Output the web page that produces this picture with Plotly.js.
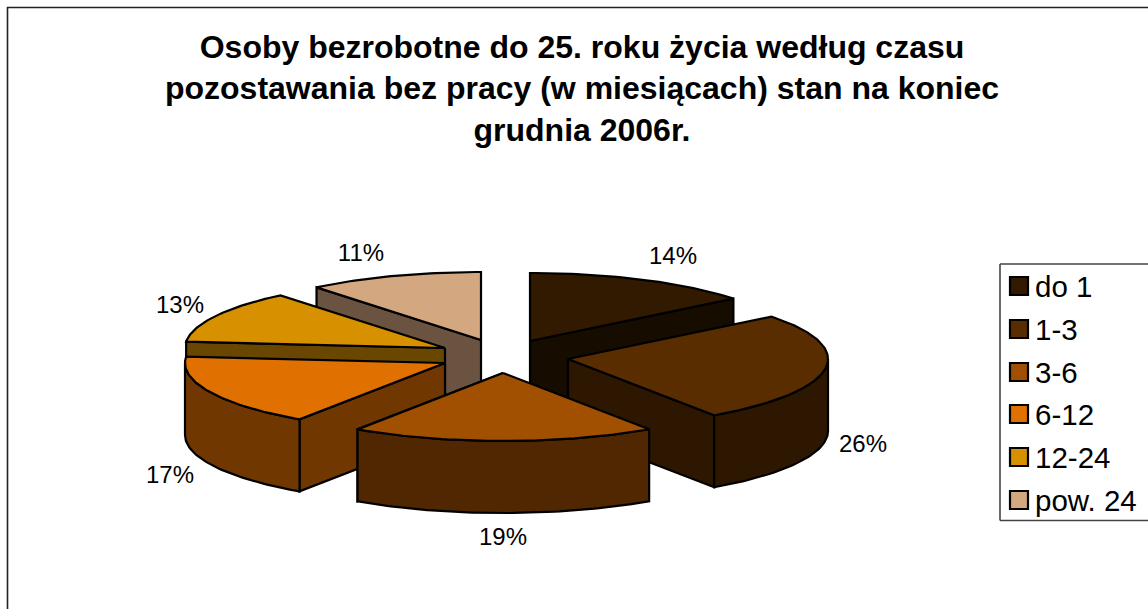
<!DOCTYPE html>
<html>
<head>
<meta charset="utf-8">
<script src="https://cdn.plot.ly/plotly-3.0.1.min.js"></script>
<style>html,body{margin:0;padding:0;background:#fff;overflow:hidden}</style>
</head>
<body>
<div id="chart" style="width:1148px;height:609px"></div>
<script>
// Data
const categories = ['do 1', '1-3', '3-6', '6-12', '12-24', 'pow. 24'];
const shares = [14.3, 26.2, 18.95, 17.05, 12.6, 10.9];
const titleText = 'Osoby bezrobotne do 25. roku życia według czasu<br>pozostawania bez pracy (w miesiącach) stan na koniec<br>grudnia 2006r.';

// Styles
const topColors = ['#321A00', '#5A2D00', '#A05000', '#E07000', '#D69000', '#D3A77F'];
const wallColors = ['#170C00', '#2E1700', '#502700', '#703800', '#6A4700', '#6A5340'];

// Projection of the exploded pie (pixel-like axis space)
const apexX = [530, 568, 503, 445, 445, 481];
const apexY = [341, 359, 373, 363, 348, 340];
const rx = 260, ry = 68, depth = 72;
const drawOrder = [5, 0, 4, 3, 1, 2];
const labelX = [673, 863, 503, 170, 180, 361];
const labelY = [258, 446, 539, 477, 307, 255];
const legendSwatchX = 1019;
const legendTextX = 1035;
const legendY = [286, 329, 372, 414, 457, 500];

const total = shares.reduce((a, b) => a + b, 0);
let running = 0;
const angles = shares.map(v => { const s = running; running += v; return [s / total * 2 * Math.PI, running / total * 2 * Math.PI]; });

function arc(i, a0, a1, dy) {
  const n = Math.max(2, Math.ceil((a1 - a0) / 0.02));
  const xs = [], ys = [];
  for (let k = 0; k <= n; k++) {
    const t = a0 + (a1 - a0) * k / n;
    xs.push(apexX[i] + rx * Math.sin(t));
    ys.push(apexY[i] - ry * Math.cos(t) + dy);
  }
  return [xs, ys];
}
function poly(x, y, color) {
  return { type: 'scatter', mode: 'lines', x: x.concat([x[0]]), y: y.concat([y[0]]), fill: 'toself', fillcolor: color,
    line: { color: '#000', width: 2.2, shape: 'linear' }, hoverinfo: 'skip', showlegend: false };
}

const traces = [];
drawOrder.forEach(i => {
  const [a0, a1] = angles[i];
  const cx = apexX[i], cy = apexY[i];
  // radial wall facing the viewer: end edge on right half, start edge on left half
  const wallAngle = a0 < Math.PI * 0.95 ? a1 : a0;
  const ex = cx + rx * Math.sin(wallAngle), ey = cy - ry * Math.cos(wallAngle);
  traces.push(poly([cx, ex, ex, cx], [cy, ey, ey + depth, cy + depth], wallColors[i]));
  // outer curved wall (only front half of the ellipse)
  const b0 = Math.max(a0, Math.PI / 2), b1 = Math.min(a1, Math.PI * 1.5);
  if (b1 > b0) {
    const [tx, ty] = arc(i, b0, b1, 0);
    const [bx, by] = arc(i, b0, b1, depth);
    traces.push(poly(tx.concat(bx.slice().reverse()), ty.concat(by.slice().reverse()), wallColors[i]));
  }
  // top face
  const [ax, ay] = arc(i, a0, a1, 0);
  traces.push(poly([cx].concat(ax), [cy].concat(ay), topColors[i]));
});

// percent labels
traces.push({ type: 'scatter', mode: 'text', x: labelX, y: labelY,
  text: shares.map(v => Math.round(v / total * 100) + '%'), textposition: 'middle center',
  textfont: { family: 'Liberation Sans, Arial, sans-serif', size: 24, color: '#000' }, hoverinfo: 'skip', showlegend: false });

// legend entries
categories.forEach((c, i) => {
  traces.push({ type: 'scatter', mode: 'markers', name: c, x: [legendSwatchX], y: [legendY[i]],
    marker: { symbol: 'square', size: 18, color: topColors[i], line: { color: '#000', width: 2.2 } },
    hoverinfo: 'skip', showlegend: false });
  traces.push({ type: 'scatter', mode: 'text', x: [legendTextX], y: [legendY[i] + 3.5], text: [c], textposition: 'middle right',
    textfont: { family: 'Liberation Sans, Arial, sans-serif', size: 29.5, color: '#000' }, hoverinfo: 'skip', showlegend: false });
});

const layout = {
  width: 1148, height: 609, margin: { l: 0, r: 0, t: 0, b: 0 }, paper_bgcolor: '#fff', plot_bgcolor: '#fff', showlegend: false,
  title: { text: titleText, x: 582 / 1148, xanchor: 'center', y: 1 - 57.5 / 609, yanchor: 'middle', automargin: false,
    font: { family: 'Liberation Sans, Arial, sans-serif', size: 32, weight: 700, color: '#000' } },
  xaxis: { range: [0, 1148], visible: false, fixedrange: true },
  yaxis: { range: [609, 0], visible: false, fixedrange: true },
  shapes: [
    { type: 'line', xref: 'x', yref: 'y', x0: 7, y0: 7.5, x1: 1148, y1: 7.5, line: { color: '#222', width: 1.6 } },
    { type: 'line', xref: 'x', yref: 'y', x0: 7.5, y0: 7, x1: 7.5, y1: 609, line: { color: '#222', width: 1.6 } },
    { type: 'line', xref: 'x', yref: 'y', x0: 1000, y0: 264, x1: 1148, y1: 264, line: { color: '#444', width: 1.6 } },
    { type: 'line', xref: 'x', yref: 'y', x0: 1000, y0: 520.5, x1: 1148, y1: 520.5, line: { color: '#444', width: 1.6 } },
    { type: 'line', xref: 'x', yref: 'y', x0: 1000, y0: 264, x1: 1000, y1: 520.5, line: { color: '#444', width: 1.6 } }
  ]
};
Plotly.newPlot('chart', traces, layout, { displayModeBar: false, staticPlot: true });
</script>
</body>
</html>
